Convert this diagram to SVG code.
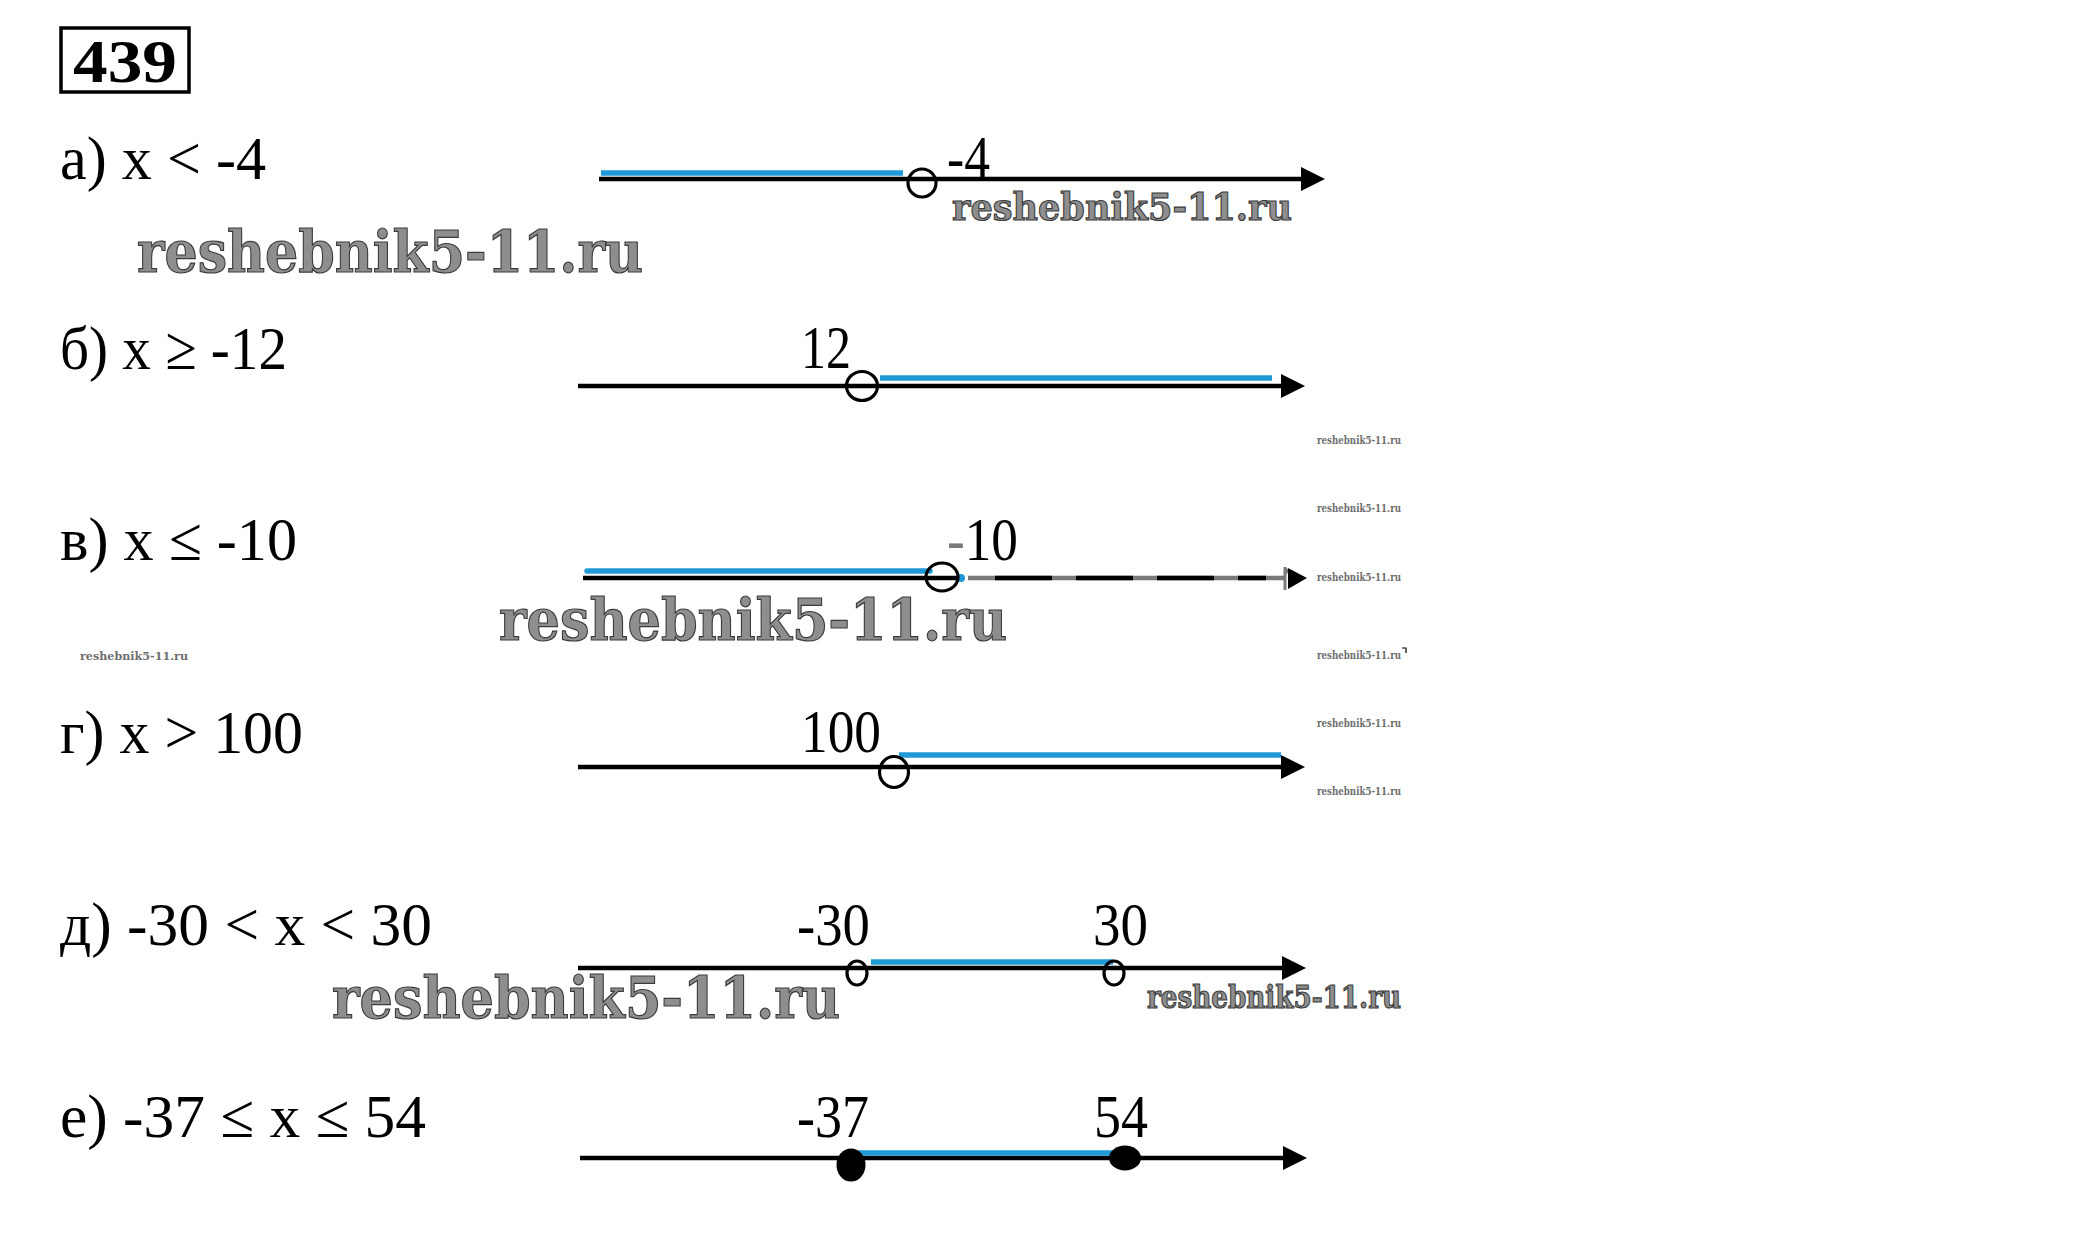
<svg xmlns="http://www.w3.org/2000/svg" width="2082" height="1240" viewBox="0 0 2082 1240">
<style>
.lbl{font-family:"Liberation Serif","Times New Roman",serif;font-size:62px;fill:#000}
.big{font-family:"DejaVu Serif",serif;font-weight:bold;fill:#8e8e8e;stroke:#3c3c3c;stroke-width:1.2}
.tiny{font-family:"DejaVu Serif",serif;font-weight:bold;font-size:11px;fill:#6e6e6e}
.axis{stroke:#000;stroke-width:4.5;fill:none}
.sol{stroke:#1f9ad6;stroke-width:5.5;fill:none}
.hole{fill:none;stroke:#000;stroke-width:3.2}
.dot{fill:#000}
.head{fill:#000}
</style>
<rect width="2082" height="1240" fill="#fff"/>

<g id="title">
<rect x="61" y="28" width="128" height="64" fill="none" stroke="#000" stroke-width="3.5"/>
<text x="73" y="82" font-family="Liberation Serif,serif" font-weight="bold" font-size="62" textLength="104" lengthAdjust="spacingAndGlyphs">439</text>
</g>

<g id="watermarks">
<text class="big" x="137" y="272" font-size="57" textLength="506" lengthAdjust="spacingAndGlyphs">reshebnik5-11.ru</text>
<text class="big" x="952" y="220" font-size="38" stroke-width="0.8" textLength="340" lengthAdjust="spacingAndGlyphs">reshebnik5-11.ru</text>
<text class="big" x="499" y="640" font-size="57" textLength="508" lengthAdjust="spacingAndGlyphs">reshebnik5-11.ru</text>
<text class="big" x="332" y="1018" font-size="57" textLength="508" lengthAdjust="spacingAndGlyphs">reshebnik5-11.ru</text>
<text class="big" x="1147" y="1008" font-size="31" stroke-width="0.7" textLength="254" lengthAdjust="spacingAndGlyphs">reshebnik5-11.ru</text>
<text class="tiny" x="1317" y="444" textLength="84" lengthAdjust="spacingAndGlyphs">reshebnik5-11.ru</text>
<text class="tiny" x="1317" y="512" textLength="84" lengthAdjust="spacingAndGlyphs">reshebnik5-11.ru</text>
<text class="tiny" x="1317" y="581" textLength="84" lengthAdjust="spacingAndGlyphs">reshebnik5-11.ru</text>
<text class="tiny" x="1317" y="659" textLength="84" lengthAdjust="spacingAndGlyphs">reshebnik5-11.ru</text>
<text class="tiny" x="1317" y="727" textLength="84" lengthAdjust="spacingAndGlyphs">reshebnik5-11.ru</text>
<text class="tiny" x="1317" y="795" textLength="84" lengthAdjust="spacingAndGlyphs">reshebnik5-11.ru</text>
<text class="tiny" x="80" y="660" font-size="13" textLength="108" lengthAdjust="spacingAndGlyphs">reshebnik5-11.ru</text>
<path d="M1402,648 H1406 V653" fill="none" stroke="#000" stroke-width="1.2"/>
</g>

<g id="conditions">
<text class="lbl" x="60" y="179" textLength="206" lengthAdjust="spacingAndGlyphs">а) x &lt; -4</text>
<text class="lbl" x="60" y="369" textLength="227" lengthAdjust="spacingAndGlyphs">б) x ≥ -12</text>
<text class="lbl" x="60" y="560" textLength="237" lengthAdjust="spacingAndGlyphs">в) x ≤ -10</text>
<text class="lbl" x="60" y="753" textLength="243" lengthAdjust="spacingAndGlyphs">г) x &gt; 100</text>
<text class="lbl" x="60" y="945" textLength="372" lengthAdjust="spacingAndGlyphs">д) -30 &lt; x &lt; 30</text>
<text class="lbl" x="60" y="1137" textLength="366" lengthAdjust="spacingAndGlyphs">е) -37 ≤ x ≤ 54</text>
</g>

<g id="connectors">
<!-- a -->
<line class="axis" x1="599" y1="179" x2="1303" y2="179"/>
<polygon class="head" points="1301,167 1325,179 1301,191"/>
<line class="sol" x1="601" y1="173" x2="903" y2="173"/>
<!-- b -->
<line class="axis" x1="578" y1="386" x2="1283" y2="386"/>
<polygon class="head" points="1281,374 1305,386 1281,398"/>
<line class="sol" x1="880" y1="378" x2="1272" y2="378"/>
<!-- v -->
<line class="sol" x1="587" y1="571" x2="930" y2="571" stroke-linecap="round" stroke-width="7"/>
<line class="axis" x1="583" y1="578" x2="960" y2="578"/>
<circle cx="961" cy="578" r="4" fill="#1f9ad6"/>
<line x1="968" y1="578" x2="1284" y2="578" stroke="#7a7a7a" stroke-width="4.5"/>
<line x1="995" y1="578" x2="1266" y2="578" stroke="#000" stroke-width="4.5" stroke-dasharray="57 24"/>
<line x1="1285" y1="567" x2="1285" y2="590" stroke="#7a7a7a" stroke-width="3"/>
<polygon points="1285,567 1292,572 1285,574" fill="#7a7a7a"/>
<polygon class="head" points="1288,568 1307,578 1288,589"/>
<!-- g -->
<line class="axis" x1="578" y1="767" x2="1283" y2="767"/>
<polygon class="head" points="1281,755 1305,767 1281,779"/>
<line class="sol" x1="899" y1="755" x2="1281" y2="755" stroke-width="6"/>
<!-- d -->
<line class="axis" x1="578" y1="968" x2="1284" y2="968"/>
<polygon class="head" points="1282,956 1306,968 1282,980"/>
<line class="sol" x1="871" y1="962" x2="1113" y2="962" stroke-width="6"/>
<!-- e -->
<line class="axis" x1="580" y1="1158" x2="1285" y2="1158"/>
<polygon class="head" points="1283,1146 1307,1158 1283,1170"/>
<line class="sol" x1="858" y1="1153" x2="1113" y2="1153" stroke-width="6"/>
</g>

<g id="point-a">
<circle class="hole" cx="922" cy="183" r="14"/>
<text class="lbl" x="947" y="178" textLength="43" lengthAdjust="spacingAndGlyphs">-4</text>
</g>
<g id="point-b">
<ellipse class="hole" cx="862" cy="386" rx="15.5" ry="14.5"/>
<text class="lbl" x="801" y="368" textLength="50" lengthAdjust="spacingAndGlyphs">12</text>
</g>
<g id="point-v">
<ellipse class="hole" cx="942" cy="577" rx="16" ry="14"/>
<text class="lbl" x="947" y="560" textLength="71" lengthAdjust="spacingAndGlyphs"><tspan fill="#7a7a7a">-</tspan>10</text>
</g>
<g id="point-g">
<ellipse class="hole" cx="894" cy="772" rx="14.5" ry="15.5"/>
<text class="lbl" x="801" y="752" textLength="80" lengthAdjust="spacingAndGlyphs">100</text>
</g>
<g id="point-d1">
<ellipse class="hole" cx="857" cy="973" rx="10" ry="12"/>
<text class="lbl" x="797" y="945" textLength="73" lengthAdjust="spacingAndGlyphs">-30</text>
</g>
<g id="point-d2">
<ellipse class="hole" cx="1114" cy="973" rx="10" ry="12"/>
<text class="lbl" x="1093" y="945" textLength="55" lengthAdjust="spacingAndGlyphs">30</text>
</g>
<g id="point-e1">
<ellipse class="dot" cx="851" cy="1165" rx="14.5" ry="16.5"/>
<text class="lbl" x="797" y="1137" textLength="72" lengthAdjust="spacingAndGlyphs">-37</text>
</g>
<g id="point-e2">
<ellipse class="dot" cx="1125" cy="1158" rx="16" ry="12.5"/>
<text class="lbl" x="1094" y="1137" textLength="54" lengthAdjust="spacingAndGlyphs">54</text>
</g>
</svg>
